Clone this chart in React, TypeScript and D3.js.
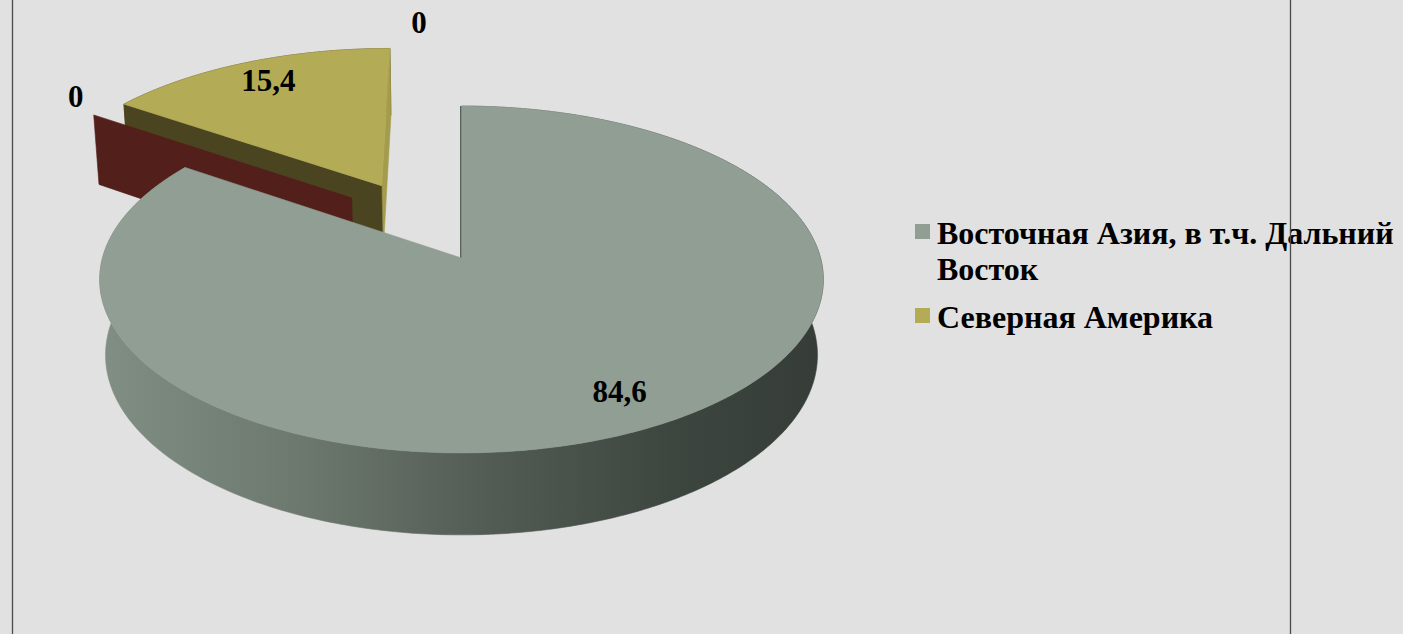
import React from "react"
import * as d3 from "d3"

// chart data
const categories = ["Восточная Азия, в т.ч. Дальний Восток", "", "Северная Америка", ""]
const shares = [84.6, 0, 15.4, 0]
const legendIndex = [0, 2]
const legendLines = [["Восточная Азия, в т.ч. Дальний", "Восток"], ["Северная Америка"]]

// styling of slices
const topColors = ["#919e94", "#521f1a", "#b3ab55", "#6b6b6b"]
const startWallColors = ["#3b433d", "#521f1a", "#4a4520", "#4b4b4b"]
const endWallColors = ["#3b433d", "#521f1a", "#a39c4c", "#4b4b4b"]
const explodeDist = [0, 0.487, 0.505, 0.5]
const explodeAngleDeg: (number | null)[] = [null, 319, null, null]
const labelRadius = [0.82, 1.14, 0.84, 1.17]
const labelShiftDeg = [-1.6, 3.5, 0.6, -7]

const W = 1403
const H = 634

// simple perspective camera for the 3D pie
const cam = { cx: 461.5, cy: 258, focal: 2549, dist: 7.1, tilt: (28.4 * Math.PI) / 180, thick: 0.2416 }
const sn = Math.sin(cam.tilt)
const cs = Math.cos(cam.tilt)

function project(X: number, Z: number, h: number): [number, number] {
  const d = cam.dist - h * sn - Z * cs
  return [cam.cx + (cam.focal * X) / d, cam.cy - (cam.focal * (h * cs - Z * sn)) / d]
}

const fmt = d3.formatLocale({ decimal: ",", thousands: " ", grouping: [3], currency: ["", ""] }).format(".1~f")
const line = d3.line()

function rim(ox: number, oz: number, a0: number, a1: number, h: number, r = 1) {
  const n = Math.max(2, Math.ceil(Math.abs(a1 - a0) / (Math.PI / 240)))
  return d3.range(n + 1).map(k => {
    const a = a0 + ((a1 - a0) * k) / n
    return project(ox + r * Math.sin(a), oz - r * Math.cos(a), h)
  })
}

export default function App() {
  const arcs = d3
    .pie<number>()
    .sort(null)
    .value(d => d)
    .startAngle(0)
    .endAngle(2 * Math.PI)(shares)

  const slices = arcs.map((a, i) => {
    const mid = (a.startAngle + a.endAngle) / 2
    const dir = explodeAngleDeg[i] != null ? ((explodeAngleDeg[i] as number) * Math.PI) / 180 : mid
    const ox = explodeDist[i] * Math.sin(dir)
    const oz = -explodeDist[i] * Math.cos(dir)
    return { i, a0: a.startAngle, a1: a.endAngle, mid, ox, oz }
  })

  // far slices first
  const order = [...slices].sort((p, q) => p.oz - q.oz)

  const leftX = project(-1, 0.124, -cam.thick)[0]
  const rightX = project(1, 0.124, -cam.thick)[0]

  const faces: JSX.Element[] = []
  order.forEach(s => {
    const { i, a0, a1, ox, oz } = s
    const hb = -cam.thick
    const v = { x: -ox, z: cam.dist * cs - oz }
    if (a1 > a0) {
      const side = [...rim(ox, oz, a0, a1, 0), ...rim(ox, oz, a1, a0, hb)]
      faces.push(
        <path key={"side" + i} d={line(side) + "Z"} fill={i === 0 ? "url(#sideGrad)" : startWallColors[i]} stroke={i === 0 ? "url(#sideGrad)" : startWallColors[i]} strokeWidth={0.6} />
      )
    }
    const wall = (a: number, color: string, key: string, forceStroke: boolean) => {
      const pts = [
        project(ox, oz, 0),
        project(ox + Math.sin(a), oz - Math.cos(a), 0),
        project(ox + Math.sin(a), oz - Math.cos(a), hb),
        project(ox, oz, hb),
      ]
      faces.push(<path key={key} d={line(pts) + "Z"} fill={color} stroke={color} strokeWidth={forceStroke ? 2.6 : 0.6} />)
    }
    // start wall normal (-cos, -sin), end wall normal (cos, sin)
    const startVis = -Math.cos(a0) * v.x - Math.sin(a0) * v.z
    const endVis = Math.cos(a1) * v.x + Math.sin(a1) * v.z
    if (endVis > 1e-6 && a1 > a0) wall(a1, endWallColors[i], "ew" + i, false)
    if (startVis > 1e-6 || (i === 0 && a1 > a0)) wall(a0, startWallColors[i], "sw" + i, i === 0)
    if (a1 > a0) {
      const top = [project(ox, oz, 0), ...rim(ox, oz, a0, a1, 0)]
      faces.push(<path key={"top" + i} d={line(top) + "Z"} fill={topColors[i]} stroke={topColors[i]} strokeWidth={0.6} />)
    }
  })

  const labels = slices.map(s => {
    const a = s.mid + (labelShiftDeg[s.i] * Math.PI) / 180
    const r = labelRadius[s.i]
    const [x, y] = project(s.ox + r * Math.sin(a), s.oz - r * Math.cos(a), 0)
    return (
      <text key={"lbl" + s.i} x={x} y={y} textAnchor="middle" dominantBaseline="central" fontSize={31} fontWeight="bold" fontFamily="'Liberation Serif', 'Times New Roman', serif" fill="#000">
        {fmt(shares[s.i])}
      </text>
    )
  })

  const legendY = [244, 328]

  return (
    <svg width={W} height={H} style={{ position: "absolute", left: 0, top: 0 }}>
      <defs>
        <linearGradient id="sideGrad" gradientUnits="userSpaceOnUse" x1={leftX} x2={rightX} y1={0} y2={0}>
          <stop offset="0" stopColor="#808e83" />
          <stop offset="0.28" stopColor="#6c786e" />
          <stop offset="0.55" stopColor="#515a53" />
          <stop offset="0.8" stopColor="#3d453f" />
          <stop offset="1" stopColor="#363d38" />
        </linearGradient>
      </defs>
      <rect x={0} y={0} width={W} height={H} fill="#e1e1e1" />
      {faces}
      {labels}
      <g fontFamily="'Liberation Serif', 'Times New Roman', serif" fontWeight="bold" fontSize={32} fill="#000">
        {legendIndex.map((ci, k) => (
          <g key={"lg" + k}>
            <rect x={915} y={legendY[k] - 20} width={15} height={15} fill={topColors[ci]} />
            <text x={937} y={legendY[k]}>
              {legendLines[k].map((t, j) => (
                <tspan key={j} x={937} dy={j === 0 ? 0 : 36}>
                  {t}
                </tspan>
              ))}
            </text>
          </g>
        ))}
      </g>
      <line x1={12.5} x2={12.5} y1={0} y2={H} stroke="#4a4a4a" strokeWidth={1.3} />
      <line x1={1290.5} x2={1290.5} y1={0} y2={H} stroke="#4a4a4a" strokeWidth={1.3} />
    </svg>
  )
}
